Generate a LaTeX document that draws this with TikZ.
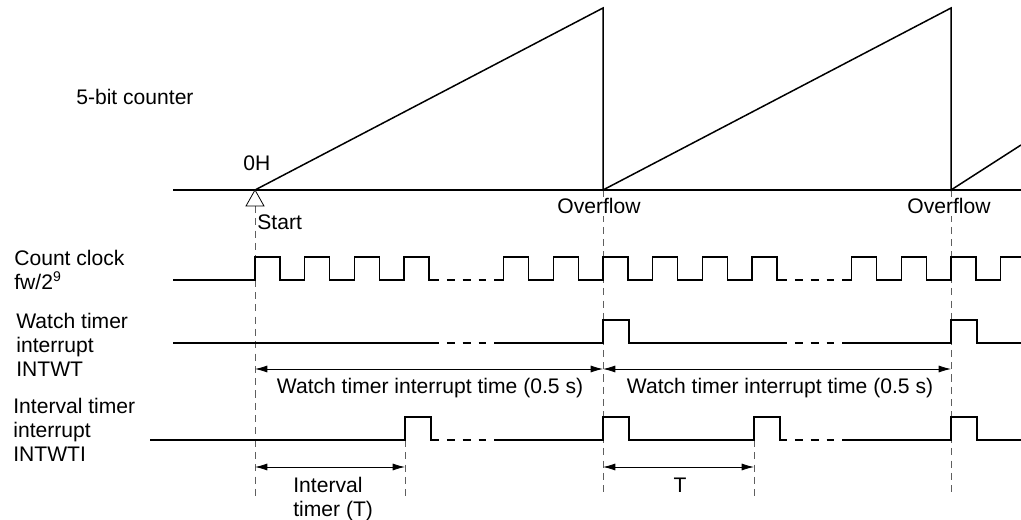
\documentclass[tikz,border=0pt]{standalone}
\usepackage{fontspec}
\setmainfont{Liberation Sans}
\usetikzlibrary{arrows.meta}
\definecolor{guidegray}{RGB}{95,95,95}
\newcommand{\labelfont}{\fontsize{12}{13.6}\selectfont}

\begin{document}
\begin{tikzpicture}[x=0.02cm, y=-0.02cm, font=\labelfont,
    sig/.style={line width=0.85pt},
    skip/.style={line width=0.85pt, dash pattern=on 4.5pt off 4.5pt, dash phase=4.5pt},
    guide/.style={draw=guidegray, line width=0.45pt, dash pattern=on 4pt off 3pt},
    dimline/.style={line width=0.45pt, {Latex[length=7pt,width=4pt]}-{Latex[length=7pt,width=4pt]}},
    lbl/.style={inner sep=0pt, anchor=base west},
    sidelbl/.style={inner sep=0pt, anchor=north west, align=left}]
  \useasboundingbox (0,0) rectangle (1021,520);
  \coordinate (start) at (255,190);
  \coordinate (ovfA) at (603,190);
  \coordinate (ovfB) at (951,190);
  \coordinate (itvA) at (405,440);
  \coordinate (itvB) at (754,440);
  \coordinate (bot) at (0,497);
  \coordinate (wt) at (0,369);
  \coordinate (iv) at (0,467);

  \draw[guide] (start) ++(0,16) -- (start |- bot);
  \draw[guide] (ovfA) -- (ovfA |- bot);
  \draw[guide] (ovfB) -- (ovfB |- bot);
  \draw[guide] (itvA) -- (itvA |- bot);
  \draw[guide] (itvB) -- (itvB |- bot);

  \node[lbl] (cnt) at (76,105) {5-bit counter};
  \draw[sig] (173,190) -- (1021,190);
  \draw[sig] (start) -- (603,8) -- (ovfA) -- (951,8) -- (ovfB) -- (1021,145);
  \draw[fill=white, line width=0.45pt] (start) -- ++(-9,16) -- ++(18,0) -- cycle;
  \node[lbl] (zero) at (243,171) {0H};
  \node[lbl] (st) at (257,230) {Start};
  \node[inner sep=1pt, fill=white, anchor=base] (ofA) at (599,214) {Overflow};
  \node[inner sep=1pt, fill=white, anchor=base] (ofB) at (949,214) {Overflow};

  \node[sidelbl] (clk) at (14,250) {Count clock\\fw/2\textsuperscript{9}};
  \draw[sig] (173,280) \foreach \x in {255,304.7,354.4,404.1} {-- (\x,280) -- ++(0,-23) -- ++(25,0) -- ++(0,23)} -- (439,280);
  \draw[skip] (439,280) -- (495,280);
  \draw[sig] (495,280) \foreach \x in {503.6,553.3,603,652.7,702.4,752.1} {-- (\x,280) -- ++(0,-23) -- ++(25,0) -- ++(0,23)} -- (787,280);
  \draw[skip] (787,280) -- (843,280);
  \draw[sig] (843,280) \foreach \x in {851.6,901.3,951} {-- (\x,280) -- ++(0,-23) -- ++(25,0) -- ++(0,23)} -- (1000.7,280) -- ++(0,-23) -- (1021,257);

  \node[sidelbl] (wtl) at (16,313) {Watch timer\\interrupt\\INTWT};
  \draw[sig] (173,343) -- (439,343);
  \draw[skip] (439,343) -- (495,343);
  \draw[sig] (495,343) -- (603,343) -- ++(0,-23) -- ++(26,0) -- ++(0,23) -- (787,343);
  \draw[skip] (787,343) -- (843,343);
  \draw[sig] (843,343) -- (951,343) -- ++(0,-23) -- ++(26,0) -- ++(0,23) -- (1021,343);

  \draw[dimline] (start |- wt) -- (ovfA |- wt);
  \draw[dimline] (ovfA |- wt) -- (ovfB |- wt);
  \node[inner sep=0pt, anchor=base] (wtA) at (430,393) {Watch timer interrupt time (0.5 s)};
  \node[inner sep=0pt, anchor=base] (wtB) at (780,393) {Watch timer interrupt time (0.5 s)};

  \node[sidelbl] (itl) at (13,398) {Interval timer\\interrupt\\INTWTI};
  \draw[sig] (150,440) -- (itvA) -- ++(0,-23) -- ++(26,0) -- ++(0,23) -- (439,440);
  \draw[skip] (439,440) -- (495,440);
  \draw[sig] (495,440) -- (603,440) -- ++(0,-23) -- ++(26,0) -- ++(0,23) -- (itvB) -- ++(0,-23) -- ++(26,0) -- ++(0,23) -- (787,440);
  \draw[skip] (787,440) -- (843,440);
  \draw[sig] (843,440) -- (951,440) -- ++(0,-23) -- ++(26,0) -- ++(0,23) -- (1021,440);

  \draw[dimline] (start |- iv) -- (itvA |- iv);
  \draw[dimline] (ovfA |- iv) -- (itvB |- iv);
  \node[sidelbl] (ivA) at (293,477) {Interval\\timer (T)};
  \node[inner sep=0pt, anchor=base] (ivB) at (680,492) {T};
\end{tikzpicture}
\end{document}
